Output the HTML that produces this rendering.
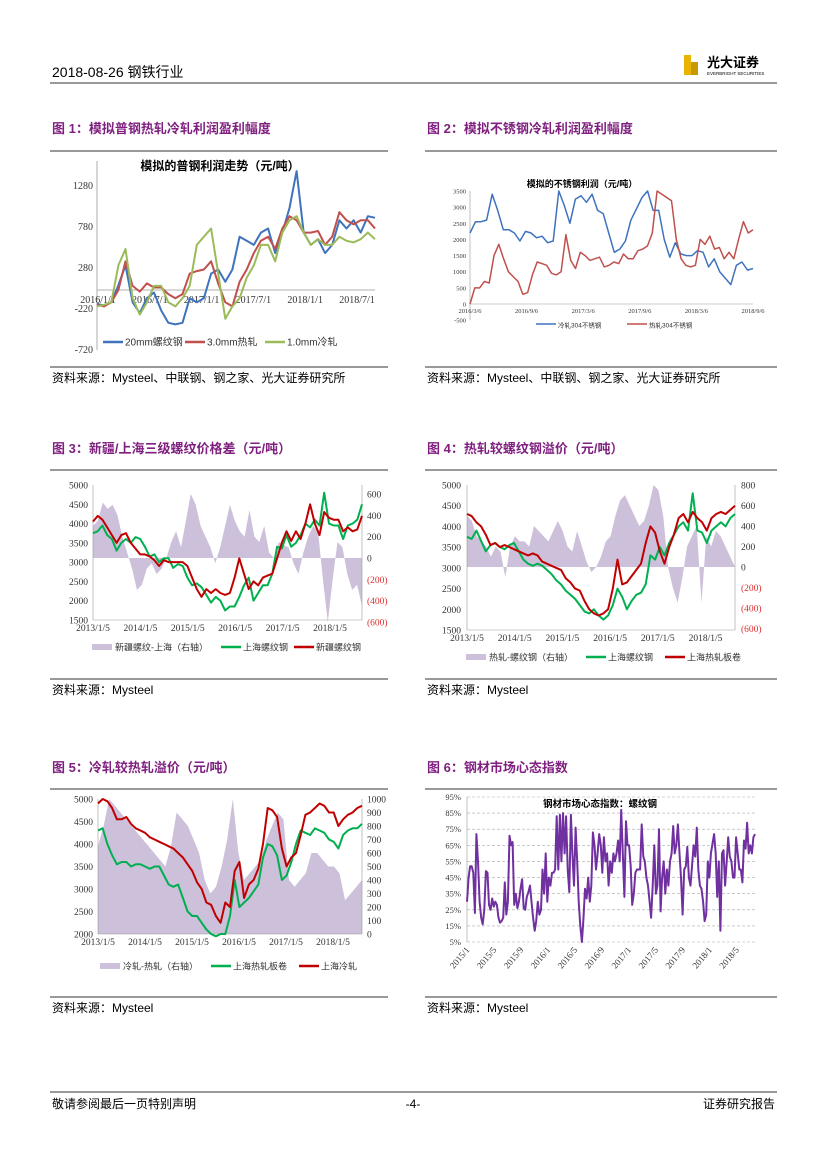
<!DOCTYPE html>
<html><head><meta charset="utf-8">
<style>
html,body{margin:0;padding:0;background:#fff;}
body{width:827px;height:1169px;overflow:hidden;font-family:"Liberation Sans","Noto Sans CJK SC",sans-serif;}
svg text{font-family:"Liberation Serif","Noto Serif CJK SC","Noto Sans CJK SC",serif;}
.cn{font-family:"Liberation Sans","Noto Sans CJK SC",sans-serif;}
</style></head>
<body>
<svg id="page" width="827" height="1169" viewBox="0 0 827 1169" xmlns="http://www.w3.org/2000/svg">
<!-- header -->
<text x="52" y="77" font-size="14" class="cn">2018-08-26   钢铁行业</text>
<line x1="50" y1="83" x2="777" y2="83" stroke="#333" stroke-width="1"/>
<g>
<rect x="684" y="55" width="7" height="20" fill="#E8B400"/>
<rect x="691" y="62" width="7" height="13" fill="#C79A00"/>
<text x="707" y="67" font-size="13" font-weight="bold" class="cn">光大证券</text>
<text x="707" y="75" font-size="4.5" class="cn">EVERBRIGHT SECURITIES</text>
</g>

<!-- figure titles -->
<g fill="#7F1F7F" font-weight="bold" font-size="13" class="cn">
<text x="52" y="133" class="cn">图 1：模拟普钢热轧冷轧利润盈利幅度</text>
<text x="427" y="133" class="cn">图 2：模拟不锈钢冷轧利润盈利幅度</text>
<text x="52" y="453" class="cn">图 3：新疆/上海三级螺纹价格差（元/吨）</text>
<text x="427" y="453" class="cn">图 4：热轧较螺纹钢溢价（元/吨）</text>
<text x="52" y="772" class="cn">图 5：冷轧较热轧溢价（元/吨）</text>
<text x="427" y="772" class="cn">图 6：钢材市场心态指数</text>
</g>
<g stroke="#333" stroke-width="1">
<line x1="50" y1="151" x2="388" y2="151"/><line x1="425" y1="151" x2="777" y2="151"/>
<line x1="50" y1="470" x2="388" y2="470"/><line x1="425" y1="470" x2="777" y2="470"/>
<line x1="50" y1="789" x2="388" y2="789"/><line x1="425" y1="789" x2="777" y2="789"/>
<line x1="50" y1="367" x2="388" y2="367"/><line x1="425" y1="367" x2="777" y2="367"/>
<line x1="50" y1="679" x2="388" y2="679"/><line x1="425" y1="679" x2="777" y2="679"/>
<line x1="50" y1="997" x2="388" y2="997"/><line x1="425" y1="997" x2="777" y2="997"/>
<line x1="50" y1="1092" x2="777" y2="1092"/>
</g>
<g font-size="12" class="cn">
<text x="52" y="382" class="cn">资料来源：Mysteel、中联钢、钢之家、光大证券研究所</text>
<text x="427" y="382" class="cn">资料来源：Mysteel、中联钢、钢之家、光大证券研究所</text>
<text x="52" y="694" class="cn">资料来源：Mysteel</text>
<text x="427" y="694" class="cn">资料来源：Mysteel</text>
<text x="52" y="1012" class="cn">资料来源：Mysteel</text>
<text x="427" y="1012" class="cn">资料来源：Mysteel</text>
<text x="52" y="1108" class="cn">敬请参阅最后一页特别声明</text>
<text x="413" y="1108" text-anchor="middle" class="cn">-4-</text>
<text x="775" y="1108" text-anchor="end" class="cn">证券研究报告</text>
</g>
<g id="charts"></g>
</svg>
<script>
// ---------- Chart 1 data ----------
const c1Ticks = [1280, 780, 280, -220, -720];
const c1Dates = ["2016/1/1","2016/7/1","2017/1/1","2017/7/1","2018/1/1","2018/7/1"];
const c1Rebar = [-170,-190,-150,60,300,-150,-280,-100,-30,-250,-400,-420,-400,-100,-150,-100,200,250,100,250,650,600,550,700,750,450,700,1000,1450,700,550,620,450,550,850,750,850,700,900,880];
const c1Hot = [-180,-200,-150,0,350,50,-20,80,30,30,-50,-100,-50,200,230,250,350,80,-150,-200,100,250,450,600,650,500,750,900,850,700,700,720,550,650,950,850,800,850,850,750];
const c1Cold = [-200,-180,-150,300,500,-100,-300,-150,50,50,-150,-200,-100,50,550,650,750,200,-350,-200,-100,150,300,550,550,350,700,850,900,700,550,620,550,550,650,600,580,620,700,620];
// ---------- Chart 2 data ----------
const c2Ticks = [3500,3000,2500,2000,1500,1000,500,0,-500];
const c2Dates = ["2016/3/6","2016/9/6","2017/3/6","2017/9/6","2018/3/6","2018/9/6"];
const c2Cold = [2200,2550,2550,2600,3400,2900,2300,2300,2200,1950,2250,2200,2050,2100,1900,1950,3500,3050,2500,3250,3350,3150,3400,2900,2800,2200,1600,1700,1950,2600,2950,3300,3500,2900,2900,2000,1450,1900,1550,1500,1500,1650,1600,1150,1400,1000,800,600,1200,1300,1050,1100];
const c2Hot = [0,500,500,700,650,1500,1850,1400,1000,850,700,300,350,900,1300,1250,1200,950,900,1000,2150,1350,1100,1600,1500,1350,1400,1450,1150,1200,1300,1250,1550,1400,1400,1650,1700,1800,2200,3500,3400,3300,3200,2000,1400,1200,1150,1200,2000,1850,2100,1700,1750,1400,1600,1400,2000,2550,2200,2300];
// ---------- Chart 3 data ----------
const c3LeftTicks = [5000,4500,4000,3500,3000,2500,2000,1500];
const c3RightTicks = [600,400,200,0,-200,-400,-600];
const c3Dates = ["2013/1/5","2014/1/5","2015/1/5","2016/1/5","2017/1/5","2018/1/5"];
const c3Xinjiang = [4050,4200,4100,3900,3700,3500,3700,3750,3500,3350,3200,3200,3150,3050,2900,3050,3000,3000,3000,3000,2900,2600,2300,2100,2300,2200,2300,2200,2150,2200,2600,3100,2700,2300,2500,2400,2600,2650,2700,3100,3500,3800,3550,3800,3600,4000,4500,4000,3700,4300,4150,4100,4100,3800,3900,3800,3850,4200];
const c3Shanghai = [3750,3800,3950,3700,3600,3300,3500,3600,3500,3650,3600,3400,3150,3200,3000,3100,3100,2850,2950,2900,2600,2400,2450,2350,2150,1950,2100,2000,1750,1850,1850,2100,2400,2600,2000,2200,2400,2400,2700,3400,3350,3700,3400,3500,3700,4000,3900,4100,3950,4800,4000,3950,3950,3600,3950,4000,4100,4500];
const c3Spread = [300,350,520,460,500,400,200,50,-100,-300,-250,-100,-50,-150,-100,0,150,250,100,350,600,500,300,200,100,-50,100,300,500,350,250,200,450,200,150,300,50,0,150,120,100,-50,-150,50,200,300,250,-200,-600,-200,150,100,-150,-300,-250,-450];
// ---------- Chart 4 data ----------
const c4LeftTicks = [5000,4500,4000,3500,3000,2500,2000,1500];
const c4RightTicks = [800,600,400,200,0,-200,-400,-600];
const c4Dates = ["2013/1/5","2014/1/5","2015/1/5","2016/1/5","2017/1/5","2018/1/5"];
const c4HotCoil = [4300,4250,4100,4000,3800,3550,3600,3500,3550,3500,3450,3400,3350,3300,3350,3300,3150,3100,3050,3000,2950,2750,2650,2500,2450,2200,2000,1900,1850,1900,2000,2500,3200,2600,2650,2800,2950,3100,3600,4000,3850,3400,3100,3500,3800,4200,4300,4100,4350,4200,4100,3900,4200,4300,4350,4300,4400,4500];
const c4Rebar = [3750,3700,3900,3650,3400,3550,3600,3500,3450,3550,3600,3400,3200,3100,3050,3100,3050,2950,2850,2700,2600,2450,2350,2250,2100,1950,1900,2000,1850,1750,1850,2100,2500,2300,2000,2200,2350,2400,2600,3300,3200,3500,3300,3600,3800,4000,4100,3900,4800,3900,3850,3600,3900,4000,4100,4000,4200,4300];
const c4Spread = [500,450,300,250,200,100,200,150,-100,200,300,250,250,200,400,350,300,250,350,450,350,200,150,350,200,50,-50,0,100,250,300,500,650,700,600,500,400,450,600,800,750,500,0,-200,-350,-100,200,300,400,-350,300,200,350,300,200,100,0];
// ---------- Chart 5 data ----------
const c5LeftTicks = [5000,4500,4000,3500,3000,2500,2000];
const c5RightTicks = [1000,900,800,700,600,500,400,300,200,100,0];
const c5Dates = ["2013/1/5","2014/1/5","2015/1/5","2016/1/5","2017/1/5","2018/1/5"];
const c5ColdRolled = [4900,5000,4950,4800,4550,4550,4600,4450,4350,4300,4250,4150,4100,4050,4000,3950,3900,3800,3700,3550,3400,3150,3000,2700,2650,2400,2250,2700,2600,3400,3600,2800,3100,3200,3450,4000,4800,4750,4600,3900,3500,3700,3800,4200,4650,4700,4800,4900,4850,4700,4700,4400,4550,4650,4700,4800,4850];
const c5HotCoil = [4300,4350,4000,3750,3550,3600,3600,3500,3550,3550,3500,3450,3500,3500,3300,3100,3050,3100,2800,2500,2400,2400,2250,2100,2000,1950,2000,2000,2400,3200,2600,2700,2800,2950,3100,3700,4000,3950,3750,3200,3300,3600,4000,4300,4250,4200,4350,4300,4250,4100,4050,3900,4200,4300,4350,4350,4450];
const c5Spread = [650,800,1000,950,900,850,800,750,700,650,600,550,500,650,900,850,800,700,600,400,300,350,500,700,1000,600,400,450,500,550,700,800,900,850,400,350,400,450,600,600,550,500,500,450,250,300,350,400];
// ---------- Chart 6 data ----------
const c6Ticks = [95,85,75,65,55,45,35,25,15,5];
const c6Dates = ["2015/1","2015/5","2015/9","2016/1","2016/5","2016/9","2017/1","2017/5","2017/9","2018/1","2018/5"];
const c6Index = [30,45,52,52,48,23,72,55,30,20,16,25,49,48,28,25,32,27,30,28,20,17,18,20,42,22,30,71,65,67,28,35,26,30,38,44,26,25,33,36,40,30,20,12,18,30,22,25,50,35,60,30,45,40,48,48,50,83,50,84,55,85,60,83,50,36,84,60,40,76,55,30,15,5,20,38,32,45,30,40,73,65,50,60,72,65,48,70,55,60,40,55,48,60,55,60,68,55,87,60,33,80,65,65,52,28,35,48,50,50,50,78,58,55,45,40,30,20,40,65,35,40,75,24,45,55,35,50,40,55,60,77,60,65,78,60,45,22,50,52,64,45,40,52,65,58,76,50,40,38,30,18,22,55,45,60,66,72,60,33,55,12,60,62,40,55,70,58,55,45,45,70,60,50,50,42,68,63,79,60,65,60,70,72];

const NS = "http://www.w3.org/2000/svg";
const root = document.getElementById('charts');
function mk(tag, attrs, parent){const e=document.createElementNS(NS,tag);for(const k in attrs)e.setAttribute(k,attrs[k]);(parent||root).appendChild(e);return e;}
function lin(d0,d1,r0,r1){return v=>r0+(v-d0)*(r1-r0)/(d1-d0);}
function fmtParen(v){return v<0?"("+Math.abs(v)+")":String(v);}
function linePath(vals,xs,ys){return vals.map((v,i)=>(i?'L':'M')+xs(i/(vals.length-1)).toFixed(1)+','+ys(v).toFixed(1)).join('');}
function drawLine(g,name,vals,xs,ys,color,w){
  const p=mk('path',{d:linePath(vals,xs,ys),fill:'none',stroke:color,'stroke-width':w,'stroke-linejoin':'round'},g);
  
  
}
function drawArea(g,name,vals,xs,ys,color){
  const y0=ys(0);
  const d=linePath(vals,xs,ys)+'L'+xs(1).toFixed(1)+','+y0+'L'+xs(0).toFixed(1)+','+y0+'Z';
  const p=mk('path',{d:d,fill:color,stroke:'none'},g);
  
  
}
function txt(g,name,x,y,s,size,anchor,fill,cls){
  const t=mk('text',{x:x,y:y,'font-size':size,'text-anchor':anchor||'start',fill:fill||'#333'},g);
  if(cls)t.setAttribute('class',cls);
  t.textContent=s;
  
  
  return t;
}
function legLine(g,name,x,y,color,label,size,w){
  const l=mk('line',{x1:x,y1:y,x2:x+20,y2:y,stroke:color,'stroke-width':w||2.5},g);
  
  
  txt(g,name+'-label',x+22,y+3.5,label,size,'start','#333','cn');
}
function legBox(g,name,x,y,color,label,size){
  const r=mk('rect',{x:x,y:y-3,width:20,height:6,fill:color},g);
  
  
  txt(g,name+'-label',x+23,y+3.5,label,size,'start','#333','cn');
}
function group(name){const g=mk('g',{});return g;}

// ---- Chart 1 ----
(function(){
  const g=group('fig1-chart');
  const xs=lin(0,1,97,375), ys=lin(0,500,290,249);
  txt(g,'chart1-title',220,170,'模拟的普钢利润走势（元/吨）',12,'middle','#000','cn').setAttribute('font-weight','bold');
  mk('line',{x1:97,y1:161,x2:97,y2:350,stroke:'#999','stroke-width':0.8},g);
  mk('line',{x1:97,y1:ys(0),x2:375,y2:ys(0),stroke:'#999','stroke-width':0.8},g);
  c1Ticks.forEach(v=>txt(g,'y-tick-'+v,93,ys(v)+4,String(v),10,'end'));
  c1Dates.forEach((d,i)=>txt(g,'x-tick-'+d,98+i*51.8,ys(0)+13,d,10,'middle'));
  drawLine(g,'rebar-20mm-line',c1Rebar,xs,ys,'#3F73BE',2);
  drawLine(g,'hot-rolled-3mm-line',c1Hot,xs,ys,'#C0504D',2);
  drawLine(g,'cold-rolled-1mm-line',c1Cold,xs,ys,'#9BBB59',2);
  legLine(g,'legend-rebar',103,342,'#3F73BE','20mm螺纹钢',10);
  legLine(g,'legend-hot',185,342,'#C0504D','3.0mm热轧',10);
  legLine(g,'legend-cold',265,342,'#9BBB59','1.0mm冷轧',10);
})();
// ---- Chart 2 ----
(function(){
  const g=group('fig2-chart');
  const xs=lin(0,1,470,753), ys=lin(0,3500,304,191);
  txt(g,'chart2-title',582,187,'模拟的不锈钢利润（元/吨）',9,'middle','#000','cn').setAttribute('font-weight','bold');
  mk('line',{x1:470,y1:191,x2:470,y2:320,stroke:'#999','stroke-width':0.6},g);
  mk('line',{x1:470,y1:ys(0),x2:753,y2:ys(0),stroke:'#999','stroke-width':0.6},g);
  c2Ticks.forEach(v=>txt(g,'y-tick-'+v,466,ys(v)+2.5,String(v),6.5,'end'));
  c2Dates.forEach((d,i)=>txt(g,'x-tick-'+d,470+i*56.6,313,d,6.5,'middle'));
  drawLine(g,'cold-304-line',c2Cold,xs,ys,'#3F73BE',1.5);
  drawLine(g,'hot-304-line',c2Hot,xs,ys,'#C0504D',1.5);
  legLine(g,'legend-cold304',536,324,'#3F73BE','冷轧304不锈钢',6.5,1.5);
  legLine(g,'legend-hot304',627,324,'#C0504D','热轧304不锈钢',6.5,1.5);
})();
// ---- Chart 3 ----
(function(){
  const g=group('fig3-chart');
  const xs=lin(0,1,93,362), yl=lin(1500,5000,620,485), yr=lin(0,600,558,494);
  drawArea(g,'spread-area',c3Spread,xs,yr,'#CCC0DA');
  mk('line',{x1:93,y1:485,x2:93,y2:620,stroke:'#999','stroke-width':0.6},g);
  mk('line',{x1:93,y1:620,x2:362,y2:620,stroke:'#999','stroke-width':0.6},g);
  mk('line',{x1:362,y1:485,x2:362,y2:620,stroke:'#999','stroke-width':0.6},g);
  c3LeftTicks.forEach(v=>txt(g,'left-tick-'+v,88,yl(v)+3.5,String(v),9.5,'end'));
  c3RightTicks.forEach(v=>txt(g,'right-tick-'+v,367,yr(v)+3.5,fmtParen(v),9.5,'start',v<0?'#E03030':'#333'));
  c3Dates.forEach((d,i)=>txt(g,'x-tick-'+d,93+i*47.4,631,d,9.5,'middle'));
  drawLine(g,'shanghai-rebar-line',c3Shanghai,xs,yl,'#00B050',2);
  drawLine(g,'xinjiang-rebar-line',c3Xinjiang,xs,yl,'#C00000',2);
  legBox(g,'legend-spread',92,647,'#CCC0DA','新疆螺纹-上海（右轴）',9);
  legLine(g,'legend-shanghai',221,647,'#00B050','上海螺纹钢',9);
  legLine(g,'legend-xinjiang',294,647,'#C00000','新疆螺纹钢',9);
})();
// ---- Chart 4 ----
(function(){
  const g=group('fig4-chart');
  const xs=lin(0,1,467,735), yl=lin(1500,5000,630,485), yr=lin(0,800,567,485);
  drawArea(g,'spread-area',c4Spread,xs,yr,'#CCC0DA');
  mk('line',{x1:467,y1:485,x2:467,y2:630,stroke:'#999','stroke-width':0.6},g);
  mk('line',{x1:467,y1:630,x2:735,y2:630,stroke:'#999','stroke-width':0.6},g);
  mk('line',{x1:735,y1:485,x2:735,y2:630,stroke:'#999','stroke-width':0.6},g);
  c4LeftTicks.forEach(v=>txt(g,'left-tick-'+v,461,yl(v)+3.5,String(v),9.5,'end'));
  c4RightTicks.forEach(v=>txt(g,'right-tick-'+v,741,yr(v)+3.5,fmtParen(v),9.5,'start',v<0?'#E03030':'#333'));
  c4Dates.forEach((d,i)=>txt(g,'x-tick-'+d,467+i*47.7,641,d,9.5,'middle'));
  drawLine(g,'shanghai-rebar-line',c4Rebar,xs,yl,'#00B050',2);
  drawLine(g,'shanghai-hot-coil-line',c4HotCoil,xs,yl,'#C00000',2);
  legBox(g,'legend-spread',466,657,'#CCC0DA','热轧-螺纹钢（右轴）',9);
  legLine(g,'legend-rebar',586,657,'#00B050','上海螺纹钢',9);
  legLine(g,'legend-hotcoil',665,657,'#C00000','上海热轧板卷',9);
})();
// ---- Chart 5 ----
(function(){
  const g=group('fig5-chart');
  const xs=lin(0,1,98,362), yl=lin(2000,5000,934,799), yr=lin(0,1000,934,799);
  drawArea(g,'spread-area',c5Spread,xs,yr,'#CCC0DA');
  mk('line',{x1:98,y1:799,x2:98,y2:934,stroke:'#999','stroke-width':0.6},g);
  mk('line',{x1:98,y1:934,x2:362,y2:934,stroke:'#999','stroke-width':0.6},g);
  mk('line',{x1:362,y1:799,x2:362,y2:934,stroke:'#999','stroke-width':0.6},g);
  c5LeftTicks.forEach(v=>txt(g,'left-tick-'+v,93,yl(v)+3.5,String(v),9.5,'end'));
  c5RightTicks.forEach(v=>txt(g,'right-tick-'+v,367,yr(v)+3.5,String(v),9.5,'start'));
  c5Dates.forEach((d,i)=>txt(g,'x-tick-'+d,98+i*47,945,d,9.5,'middle'));
  drawLine(g,'hot-coil-line',c5HotCoil,xs,yl,'#00B050',2);
  drawLine(g,'cold-rolled-line',c5ColdRolled,xs,yl,'#C00000',2);
  legBox(g,'legend-spread',100,966,'#CCC0DA','冷轧-热轧（右轴）',9);
  legLine(g,'legend-hotcoil',211,966,'#00B050','上海热轧板卷',9);
  legLine(g,'legend-cold',299,966,'#C00000','上海冷轧',9);
})();
// ---- Chart 6 ----
(function(){
  const g=group('fig6-chart');
  const xs=lin(0,1,467,755), ys=lin(5,95,942,797);
  c6Ticks.forEach(v=>{
    const l=mk('line',{x1:467,y1:ys(v),x2:757,y2:ys(v),stroke:'#aaa','stroke-width':0.6,'stroke-dasharray':'3,2'},g);
    
    
    txt(g,'y-tick-'+v,461,ys(v)+3,v+'%',8.5,'end');
  });
  mk('line',{x1:467,y1:797,x2:467,y2:942,stroke:'#999','stroke-width':0.6},g);
  c6Dates.forEach((d,i)=>{
    const x=467+i*26.95;
    const t=txt(g,'x-tick-'+d,x+3,950,d,9,'end');
    t.setAttribute('transform','rotate(-50 '+(x+3)+' 950)');
  });
  drawLine(g,'sentiment-index-line',c6Index,xs,ys,'#7030A0',2);
  txt(g,'chart6-title',600,807,'钢材市场心态指数：螺纹钢',9.5,'middle','#000','cn').setAttribute('font-weight','bold');
})();
</script>
</body></html>
